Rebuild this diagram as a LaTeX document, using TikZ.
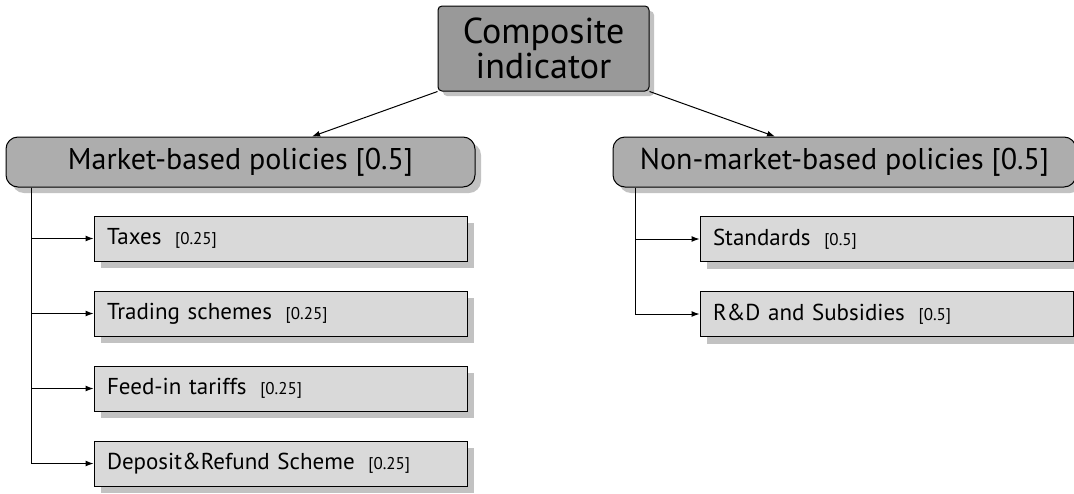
\documentclass[tikz,border=0pt]{standalone}
\usepackage{fontspec}
\setmainfont{PT Sans}
\usetikzlibrary{shadows,arrows.meta,calc}
\definecolor{topfill}{gray}{0.6}
\definecolor{headfill}{gray}{0.68}
\definecolor{itemfill}{gray}{0.85}
\definecolor{shadowc}{gray}{0.76}
\newcommand{\wgt}[1]{\hspace{6pt}{\fontsize{17}{18}\selectfont[#1]}}
\begin{document}
\begin{tikzpicture}[x=1pt,y=-1pt,
  shad/.style={drop shadow={shadow xshift=#1, shadow yshift=-#1, fill=shadowc, opacity=1}},
  topbox/.style={draw=black, line width=1pt, fill=topfill, rounded corners=4pt,
    minimum width=211pt, minimum height=85pt, align=center, inner sep=0pt,
    font=\fontsize{36}{35}\selectfont, shad=5pt},
  headbox/.style={draw=black, line width=1pt, fill=headfill, rounded corners=12pt,
    minimum height=50pt, inner sep=0pt, font=\fontsize{30}{32}\selectfont, shad=6pt},
  itembox/.style={draw=black, line width=1pt, fill=itemfill, minimum height=45pt,
    text width=347pt, inner xsep=13pt, inner ysep=0pt, align=left,
    font=\fontsize{23}{26}\selectfont, shad=7pt},
  arr/.style={line width=1pt, -{Latex[length=8pt,width=6pt]}}
]
\useasboundingbox (0,0) rectangle (1074,493);
\node[topbox] (top) at (543.5,48.5) {Composite\\indicator};
\node[headbox, minimum width=469pt] (mkt) at (240.5,162) {Market-based policies [0.5]};
\node[headbox, minimum width=463pt] (nmkt) at (844.5,162) {Non-market-based policies [0.5]};

\node[itembox] (taxes) at (280.5,238.5) {Taxes \wgt{0.25}};
\node[itembox] (trad) at (280.5,313.5) {Trading schemes \wgt{0.25}};
\node[itembox] (feed) at (280.5,388.5) {Feed-in tariffs \wgt{0.25}};
\node[itembox] (dep) at (280.5,463.5) {Deposit\&Refund Scheme \wgt{0.25}};

\node[itembox] (std) at (886.5,239) {Standards \wgt{0.5}};
\node[itembox] (rd) at (886.5,314) {R\&D and Subsidies \wgt{0.5}};

\coordinate (mtip) at ($(mkt.north)+(71.5,0)$);
\coordinate (ntip) at ($(nmkt.north)+(-69.5,0)$);
\draw[arr] (top.south west) -- (mtip);
\draw[arr] (top.south east) -- (ntip);

\coordinate (mroot) at ($(mkt.south west)+(26,0)$);
\coordinate (nroot) at ($(nmkt.south west)+(23,0)$);
\foreach \n in {taxes,trad,feed,dep}{\draw[arr] (mroot) |- (\n.west);}
\foreach \n in {std,rd}{\draw[arr] (nroot) |- (\n.west);}
\end{tikzpicture}
\end{document}
